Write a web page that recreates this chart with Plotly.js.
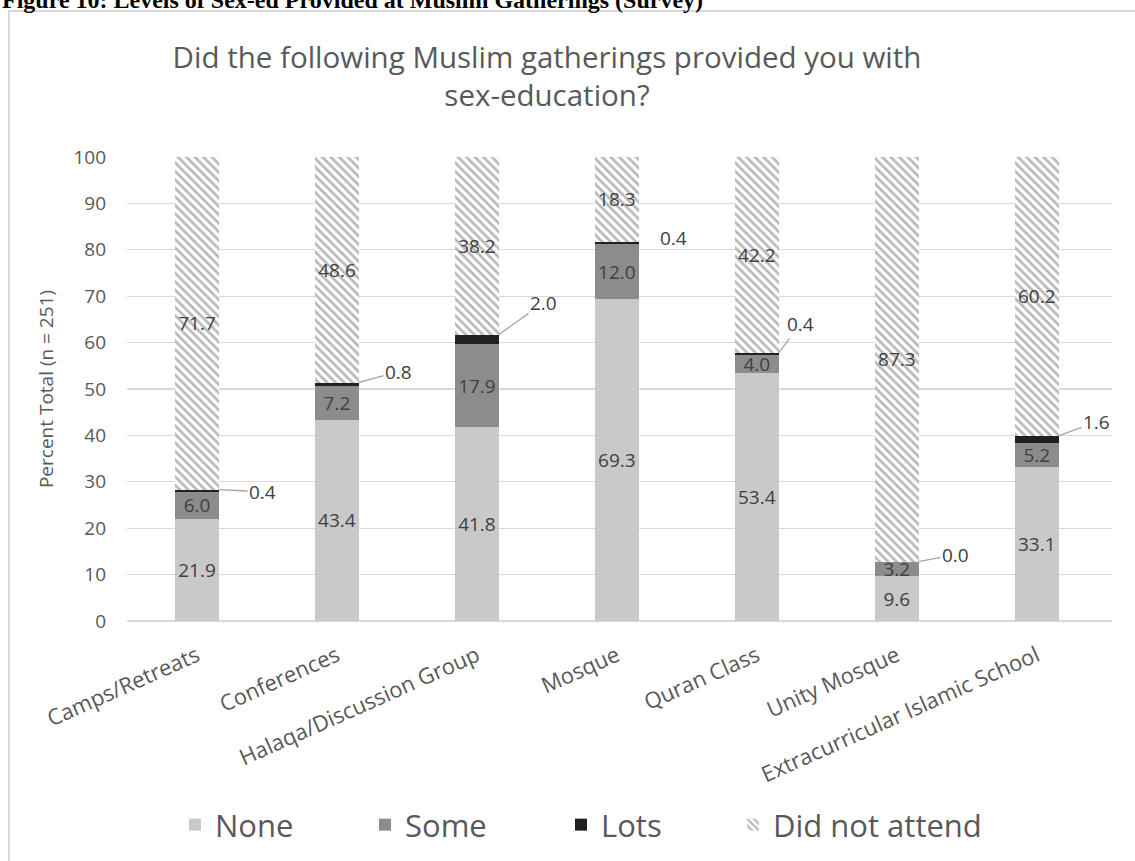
<!DOCTYPE html>
<html>
<head>
<meta charset="utf-8">
<script src="https://cdn.plot.ly/plotly-3.0.1.min.js"></script>
<style>
  html, body { margin: 0; padding: 0; background: #ffffff; overflow: hidden; }
  #frame { position: absolute; left: 8px; top: 10px; width: 1200px; height: 900px; border: 2px solid #d9d9d9; box-sizing: border-box; }
  #chart { position: absolute; left: 0; top: 0; width: 1135px; height: 861px; }
</style>
</head>
<body>
<div id="frame"></div>
<div id="chart"></div>
<script>
// ---- data ----
const categories = ["Camps/Retreats", "Conferences", "Halaqa/Discussion Group", "Mosque", "Quran Class", "Unity Mosque", "Extracurricular Islamic School"];
const noneVals = [21.9, 43.4, 41.8, 69.3, 53.4, 9.6, 33.1];
const someVals = [6.0, 7.2, 17.9, 12.0, 4.0, 3.2, 5.2];
const lotsVals = [0.4, 0.8, 2.0, 0.4, 0.4, 0.0, 1.6];
const didNotAttendVals = [71.7, 48.6, 38.2, 18.3, 42.2, 87.3, 60.2];
const seriesNames = ["None", "Some", "Lots", "Did not attend"];
const yTicks = [0, 10, 20, 30, 40, 50, 60, 70, 80, 90, 100];

// ---- styling ----
const FONT = "Open Sans, Lato, sans-serif";
const GRAY = "#595959";
const LABEL = "#404040";
const barWidth = 0.31;
const W = 1135, T = 157, B = 240, L = 127, R = 23, H = 861;
const plotH = H - T - B;
function pxToPaperY(p) { return (H - B - p) / plotH; }

const fmt = v => v.toFixed(1);
const inside = { textposition: "inside", insidetextanchor: "middle", textangle: 0,
  textfont: { family: FONT, size: 19, color: LABEL }, hoverinfo: "none" };

const traces = [
  Object.assign({
    type: "bar", name: seriesNames[0], x: categories, y: noneVals, legend: "legend",
    marker: { color: "#c9c9c9", line: { width: 0 } },
    text: noneVals.map(fmt)
  }, inside),
  Object.assign({
    type: "bar", name: seriesNames[1], x: categories, y: someVals, legend: "legend2",
    marker: { color: "#8c8c8c", line: { width: 0 } },
    text: someVals.map(fmt)
  }, inside),
  {
    type: "bar", name: seriesNames[2], x: categories, y: lotsVals, legend: "legend3",
    marker: { color: "#231f20", line: { width: 0 } },
    textposition: "none", hoverinfo: "none"
  },
  Object.assign({
    type: "bar", name: seriesNames[3], x: categories, y: didNotAttendVals, legend: "legend4",
    marker: {
      color: "#ffffff", line: { width: 0 },
      pattern: { shape: "\\", fgcolor: "#b8b8b8", bgcolor: "#ffffff", size: 6, solidity: 0.45 }
    },
    text: didNotAttendVals.map(fmt)
  }, inside)
];

// label offsets (pixels) for the "Lots" callouts
const lotsOffsets = [[44, 2], [40, -11], [45, -32], [35, -4], [22, -29], [37, -7], [38, -14]];
const annotations = categories.map((c, i) => {
  const top = noneVals[i] + someVals[i] + lotsVals[i];
  return {
    x: i + barWidth / 2, y: top, xref: "x", yref: "y",
    text: fmt(lotsVals[i]), showarrow: i !== 3, arrowhead: 0, arrowwidth: 1.3,
    arrowcolor: "#a6a6a6", ax: lotsOffsets[i][0], ay: lotsOffsets[i][1],
    xshift: i === 3 ? lotsOffsets[i][0] : 0, yshift: i === 3 ? -lotsOffsets[i][1] : 0,
    font: { family: FONT, size: 19, color: LABEL }, standoff: 0
  };
});
annotations.push({
  xref: "paper", yref: "paper", x: -L / (W - L - R), y: pxToPaperY(0),
  xanchor: "left", yanchor: "middle", showarrow: false,
  text: "<b>Figure 10: Levels of Sex-ed Provided at Muslim Gatherings (Survey)</b>",
  font: { family: "Liberation Serif, Times New Roman, serif", size: 24, color: "#000000" }
});

function legendAt(left) {
  return {
    orientation: "h", x: left / W, xanchor: "left", xref: "container",
    y: 1 - 825 / H, yanchor: "middle", yref: "container",
    font: { family: FONT, size: 31, color: GRAY }, bgcolor: "rgba(0,0,0,0)",
    itemclick: false, itemdoubleclick: false
  };
}

const layout = {
  width: W, height: H,
  margin: { l: L, r: R, t: T, b: B, pad: 0 },
  paper_bgcolor: "rgba(0,0,0,0)", plot_bgcolor: "rgba(0,0,0,0)",
  barmode: "stack", bargap: 1 - barWidth,
  showlegend: true,
  uniformtext: { mode: "show", minsize: 19 },
  title: {
    text: "Did the following Muslim gatherings provided you with<br>sex-education?",
    font: { family: FONT, size: 29.5, color: GRAY },
    x: 547 / W, xanchor: "center", xref: "container",
    y: 1 - 68 / H, yanchor: "middle", yref: "container"
  },
  xaxis: {
    type: "category", categoryorder: "array", categoryarray: categories,
    tickangle: -24, tickfont: { family: FONT, size: 22, color: GRAY },
    showgrid: false, showline: false, zeroline: false, ticks: "", ticklabelstandoff: 17, fixedrange: true
  },
  yaxis: {
    range: [0, 100], tickvals: yTicks, ticktext: yTicks.map(String),
    tickfont: { family: FONT, size: 19, color: GRAY },
    showgrid: true, gridcolor: "#d9d9d9", gridwidth: 1.3,
    zeroline: true, zerolinecolor: "#d9d9d9", zerolinewidth: 1.3,
    showline: false, ticks: "", ticklabelstandoff: 20,
    title: { text: "Percent Total (n = 251)", font: { family: FONT, size: 19, color: GRAY }, standoff: 14 },
    fixedrange: true
  },
  legend: legendAt(175),
  legend2: legendAt(365),
  legend3: legendAt(561),
  legend4: legendAt(733),
  annotations: annotations
};

Plotly.newPlot("chart", traces, layout, { displayModeBar: false, staticPlot: true });
</script>
</body>
</html>
